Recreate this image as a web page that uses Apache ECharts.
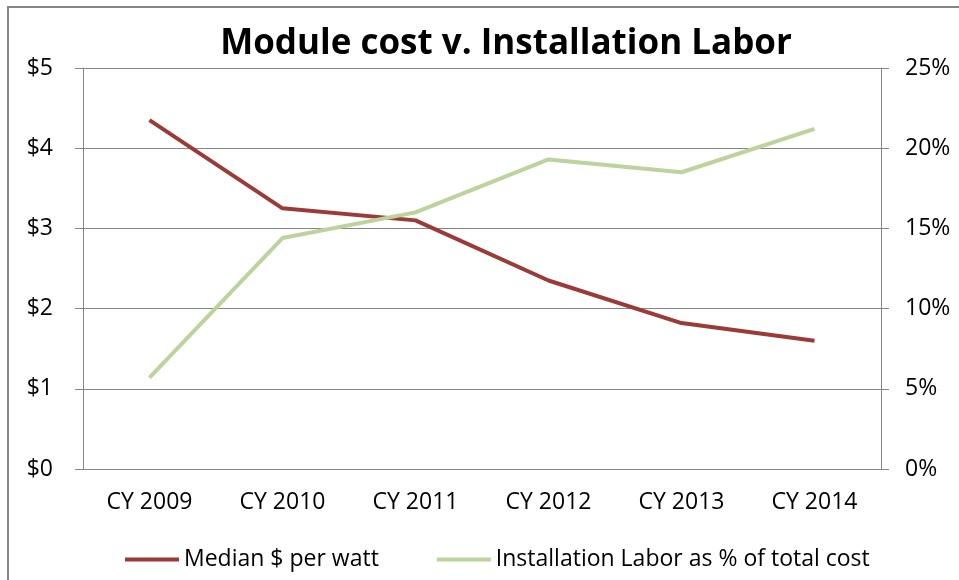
<!DOCTYPE html>
<html>
<head>
<meta charset="utf-8">
<script src="https://cdn.jsdelivr.net/npm/echarts@6/dist/echarts.min.js"></script>
<style>
  html, body { margin: 0; padding: 0; background: #fff; }
  #chart { width: 959px; height: 580px; }
</style>
</head>
<body>
<div id="chart"></div>
<script>
const years = ['CY 2009', 'CY 2010', 'CY 2011', 'CY 2012', 'CY 2013', 'CY 2014']
const medianCost = [4.35, 3.25, 3.10, 2.35, 1.82, 1.60]
const laborShare = [5.7, 14.4, 16.0, 19.3, 18.5, 21.2]

const font = 'Open Sans'
const gray = '#868686'
const red = '#9b3a36'
const green = '#bcd39c'

const chart = echarts.init(document.getElementById('chart'))

chart.setOption({
  animation: false,
  textStyle: { fontFamily: font },
  title: {
    text: 'Module cost v. Installation Labor',
    left: 501,
    textAlign: 'center',
    top: 22,
    textStyle: { fontFamily: font, fontSize: 35, fontWeight: 'bold', color: '#000' }
  },
  graphic: [{
    type: 'rect',
    shape: { x: 8, y: 7, width: 1000, height: 1000 },
    style: { fill: 'none', stroke: gray, lineWidth: 2 },
    silent: true
  }],
  legend: {
    bottom: 4,
    left: 120,
    icon: 'rect',
    itemWidth: 54,
    itemHeight: 4,
    itemGap: 58,
    textStyle: { fontFamily: font, fontSize: 23, color: '#000' },
    data: ['Median $ per watt', 'Installation Labor as % of total cost']
  },
  grid: { left: 83, right: 78, top: 68, bottom: 111 },
  xAxis: {
    type: 'category',
    data: years,
    axisLine: { lineStyle: { color: gray } },
    axisTick: { length: 7, lineStyle: { color: gray } },
    axisLabel: { fontFamily: font, fontSize: 23, color: '#000', margin: 22 }
  },
  yAxis: [{
    type: 'value',
    min: 0, max: 5, interval: 1,
    axisLine: { show: true, lineStyle: { color: gray } },
    axisTick: { show: true, length: 8, lineStyle: { color: gray } },
    splitLine: { lineStyle: { color: gray } },
    axisLabel: { fontFamily: font, fontSize: 23, color: '#000', margin: 30, formatter: v => '$' + v }
  }, {
    type: 'value',
    position: 'right',
    min: 0, max: 25, interval: 5,
    axisLine: { show: true, lineStyle: { color: gray } },
    axisTick: { show: true, length: 8, lineStyle: { color: gray } },
    splitLine: { show: false },
    axisLabel: { fontFamily: font, fontSize: 23, color: '#000', margin: 24, formatter: v => v + '%' }
  }],
  series: [{
    name: 'Median $ per watt',
    type: 'line',
    data: medianCost,
    yAxisIndex: 0,
    showSymbol: false,
    color: red,
    lineStyle: { width: 4, color: red }
  }, {
    name: 'Installation Labor as % of total cost',
    type: 'line',
    data: laborShare,
    yAxisIndex: 1,
    showSymbol: false,
    color: green,
    lineStyle: { width: 4, color: green }
  }]
})
</script>
</body>
</html>
